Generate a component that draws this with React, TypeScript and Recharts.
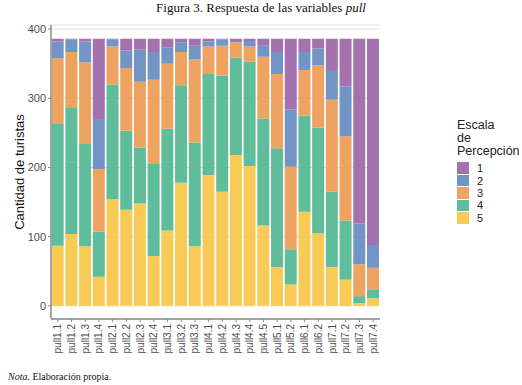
import React from 'react';
import { BarChart, Bar, XAxis, YAxis, CartesianGrid, Legend } from 'recharts';

const categories = [
  'pull1.1', 'pull1.2', 'pull1.3', 'pull1.4', 'pull2.1', 'pull2.2', 'pull2.3', 'pull2.4',
  'pull3.1', 'pull3.2', 'pull3.3', 'pull4.1', 'pull4.2', 'pull4.3', 'pull4.4', 'pull4.5',
  'pull5.1', 'pull5.2', 'pull6.1', 'pull6.2', 'pull7.1', 'pull7.2', 'pull7.3', 'pull7.4',
];

// respuestas por nivel de la escala (1 = arriba, 5 = abajo)
const nivel1 = [4, 1, 4, 116, 1, 17, 15, 19, 12, 5, 10, 4, 1, 3, 3, 10, 19, 102, 19, 14, 45, 69, 267, 298];
const nivel2 = [24, 18, 30, 72, 10, 25, 47, 40, 24, 14, 20, 7, 9, 2, 8, 16, 32, 83, 26, 24, 43, 72, 59, 33];
const nivel3 = [94, 81, 117, 91, 55, 91, 95, 122, 94, 48, 120, 40, 43, 22, 22, 89, 107, 119, 66, 90, 133, 122, 46, 31];
const nivel4 = [177, 182, 149, 65, 166, 114, 81, 133, 147, 141, 150, 146, 168, 141, 151, 155, 172, 51, 139, 153, 109, 85, 10, 13];
const nivel5 = [87, 104, 86, 42, 154, 139, 148, 72, 109, 178, 86, 189, 165, 218, 202, 116, 56, 31, 136, 105, 56, 38, 4, 11];

const yTicks = [0, 100, 200, 300, 400];

const levels = [
  { key: 'n1', label: '1', color: '#9a63a6', values: nivel1 },
  { key: 'n2', label: '2', color: '#6489c0', values: nivel2 },
  { key: 'n3', label: '3', color: '#ec9a4f', values: nivel3 },
  { key: 'n4', label: '4', color: '#4fb690', values: nivel4 },
  { key: 'n5', label: '5', color: '#f6c544', values: nivel5 },
];

const data = categories.map((name, i) => {
  const row: Record<string, string | number> = { name };
  levels.forEach((l) => {
    row[l.key] = l.values[i];
  });
  return row;
});

const sans = '"Liberation Sans", Arial, sans-serif';
const serif = '"Liberation Serif", "Times New Roman", serif';

const XTick = ({ x, y, payload }: any) => (
  <g transform={`translate(${x},${y + 1})`}>
    <text transform="rotate(-90)" textAnchor="end" dy="0.35em" fontSize={10} fill="#4d4d4d" fontFamily={sans}>
      {payload.value}
    </text>
  </g>
);

const LegendBox = () => (
  <div style={{ fontFamily: sans, color: '#222' }}>
    <div style={{ fontSize: 12.5, lineHeight: '13px', marginBottom: 4 }}>
      Escala
      <br />
      de
      <br />
      Percepción
    </div>
    {levels.map((l) => (
      <div key={l.key} style={{ display: 'flex', alignItems: 'center', height: 12.4 }}>
        <div style={{ width: 12, height: 11.5, background: l.color, opacity: 0.9 }} />
        <span style={{ fontSize: 11, marginLeft: 8 }}>{l.label}</span>
      </div>
    ))}
  </div>
);

export default function App() {
  return (
    <div style={{ position: 'absolute', left: 0, top: 0, width: 522, height: 385, background: '#fff' }}>
      <div
        style={{
          position: 'absolute',
          top: 0,
          width: 522,
          textAlign: 'center',
          fontFamily: serif,
          fontSize: 13,
          lineHeight: '16px',
          color: '#111',
        }}
      >
        Figura 3. Respuesta de las variables <i>pull</i>
      </div>
      <BarChart
        width={522}
        height={385}
        data={data}
        margin={{ top: 25, right: 77, bottom: 0, left: 0 }}
        barCategoryGap="5%"
      >
        <CartesianGrid horizontal vertical={false} stroke="#e3e3e3" strokeWidth={1} />
        <XAxis
          dataKey="name"
          interval={0}
          height={66}
          tick={<XTick />}
          tickSize={3}
          tickMargin={1}
          axisLine={{ stroke: '#8a8a8a', strokeWidth: 1.5 }}
          tickLine={{ stroke: '#8a8a8a' }}
          padding={{ left: 0, right: 0 }}
        />
        <YAxis
          width={51}
          domain={[-19, 406]}
          ticks={yTicks}
          allowDataOverflow
          tickSize={3}
          tickMargin={2}
          axisLine={{ stroke: '#8a8a8a', strokeWidth: 1.5 }}
          tickLine={{ stroke: '#8a8a8a' }}
          tick={{ fontSize: 11, fill: '#4d4d4d', fontFamily: sans }}
          label={{
            value: 'Cantidad de turistas',
            angle: -90,
            position: 'insideLeft',
            offset: 19,
            style: { fontSize: 13, fill: '#111', fontFamily: sans, textAnchor: 'middle' },
          }}
        />
        <Legend
          layout="vertical"
          align="right"
          verticalAlign="top"
          content={<LegendBox />}
          wrapperStyle={{ position: 'absolute', left: 457, top: 119, width: 65 }}
        />
        {[...levels].reverse().map((l) => (
          <Bar
            key={l.key}
            dataKey={l.key}
            stackId="a"
            fill={l.color}
            fillOpacity={0.9}
            isAnimationActive={false}
          />
        ))}
      </BarChart>
      <div
        style={{
          position: 'absolute',
          left: 8,
          top: 371,
          fontFamily: serif,
          fontSize: 10,
          color: '#111',
        }}
      >
        <i>Nota.</i> Elaboración propia.
      </div>
    </div>
  );
}
